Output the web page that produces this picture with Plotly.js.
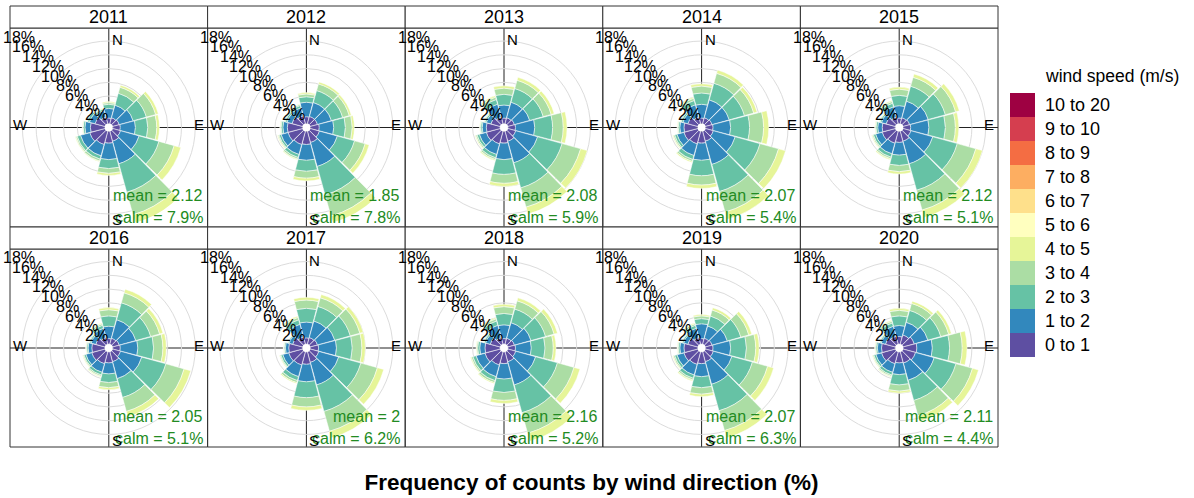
<!DOCTYPE html>
<html><head><meta charset="utf-8">
<script src="https://cdn.plot.ly/plotly-3.0.1.min.js"></script>
<style>html,body{margin:0;padding:0;background:#fff}#chart{width:1194px;height:498px}</style>
</head><body><div id="chart"></div>
<script>
const years = ['2011','2012','2013','2014','2015','2016','2017','2018','2019','2020'];
const directions = [0,30,60,90,120,150,180,210,240,270,300,330];
const speedBins = ['0 to 1','1 to 2','2 to 3','3 to 4','4 to 5','5 to 6','6 to 7','7 to 8','8 to 9','9 to 10','10 to 20'];
const binColors = ['#5E4FA2','#3288BD','#66C2A5','#ABDDA4','#E6F598','#FFFFBF','#FEE08B','#FDAE61','#F46D43','#D53E4F','#9E0142'];
const meanSpeed = ['2.12','1.85','2.08','2.07','2.12','2.05','2','2.16','2.07','2.11'];
const calmPct = ['7.9','7.8','5.9','5.4','5.1','5.1','6.2','5.2','6.3','4.4'];
const gridTicks = [2,4,6,8,10,12];
const labelTicks = [2,4,6,8,10,12,14,16,18];

// rows: direction (N, 30, ... 330); columns: % in speed bins 0-1, 1-2, 2-3, 3-4, 4-5
const ws2011 = [[0.8,1.4,0.6,0.25,0.15],[0.9,1.9,1.8,0.9,0.3],[1.0,2.1,2.0,1.4,0.4],[1.1,2.2,1.8,1.3,0.4],[1.2,2.8,3.0,2.3,1.0],[1.5,3.4,4.3,3.4,1.4],[1.7,2.4,1.3,0.7,0.3],[2.0,1.7,0.5,0.3,0.1],[2.3,1.4,0.5,0.2,0.1],[2.1,0.8,0.25,0.1,0.05],[1.5,0.85,0.3,0.1,0.05],[1.0,1.0,0.25,0.1,0.05]];
const ws2012 = [[1.0,2.1,0.8,0.4,0.2],[1.1,2.1,1.8,1.0,0.3],[1.1,2.1,1.7,1.0,0.3],[1.3,2.1,1.7,1.0,0.3],[1.4,2.7,2.6,1.6,0.6],[1.7,3.6,4.3,3.2,1.0],[1.9,2.3,1.6,1.0,0.4],[2.0,1.5,0.45,0.25,0.1],[2.2,1.05,0.3,0.15,0.1],[2.2,0.65,0.25,0.13,0.07],[1.6,0.75,0.25,0.13,0.07],[1.2,1.2,0.35,0.17,0.08]];
const ws2013 = [[0.8,1.9,1.55,0.9,0.35],[0.9,2.35,2.05,1.25,0.45],[1.0,2.3,2.05,1.2,0.45],[1.1,2.8,2.6,1.55,0.55],[1.2,3.3,3.7,2.8,1.0],[1.5,3.25,3.8,2.9,1.05],[1.7,2.4,2.15,1.3,0.45],[1.9,1.6,0.5,0.25,0.15],[2.1,1.05,0.35,0.2,0.1],[2.0,0.6,0.22,0.12,0.06],[1.4,0.7,0.22,0.12,0.06],[1.0,1.95,0.7,0.36,0.19]];
const ws2014 = [[0.8,2.0,1.65,1.0,0.35],[0.9,2.7,2.5,1.5,0.5],[1.0,2.6,2.3,1.4,0.5],[1.1,2.55,2.75,2.05,0.75],[1.2,3.3,3.75,2.8,1.05],[1.5,3.5,4.1,3.1,1.1],[1.7,2.5,2.25,1.35,0.5],[1.9,1.75,0.6,0.3,0.15],[2.1,1.05,0.35,0.2,0.1],[2.0,0.6,0.22,0.12,0.06],[1.5,0.75,0.25,0.13,0.07],[1.0,1.85,0.65,0.33,0.17]];
const ws2015 = [[0.8,1.8,1.5,0.9,0.3],[0.9,2.5,2.25,1.35,0.5],[1.0,2.8,2.6,1.55,0.55],[1.1,2.65,2.4,1.45,0.5],[1.2,3.3,3.7,2.8,1.0],[1.5,3.4,4.0,3.0,1.1],[1.6,1.85,1.5,0.9,0.35],[1.8,1.6,0.5,0.25,0.15],[2.0,1.0,0.33,0.17,0.1],[1.9,0.65,0.25,0.13,0.07],[1.4,0.7,0.22,0.12,0.06],[1.0,1.55,0.53,0.27,0.15]];
const ws2016 = [[0.8,1.8,1.5,0.9,0.3],[0.9,2.8,2.55,1.5,0.55],[1.0,2.5,2.25,1.35,0.5],[1.1,2.55,2.3,1.35,0.5],[1.2,3.2,3.65,2.75,1.0],[1.5,2.55,2.85,2.1,0.8],[1.6,1.6,1.25,0.75,0.3],[1.8,1.3,0.4,0.2,0.1],[2.0,0.9,0.28,0.14,0.08],[1.9,0.54,0.2,0.1,0.06],[1.4,0.7,0.22,0.12,0.06],[1.0,1.4,0.45,0.23,0.12]];
const ws2017 = [[0.9,2.3,2.0,1.2,0.4],[1.0,2.5,2.2,1.3,0.5],[1.1,2.6,2.35,1.45,0.5],[1.2,2.6,2.3,1.4,0.5],[1.3,3.0,3.35,2.5,0.95],[1.6,3.4,4.0,3.0,1.0],[1.8,2.55,2.3,1.35,0.5],[2.0,1.75,0.6,0.3,0.15],[2.1,0.9,0.28,0.14,0.08],[2.0,0.48,0.18,0.09,0.05],[1.5,0.53,0.15,0.08,0.04],[1.1,1.9,0.68,0.35,0.17]];
const ws2018 = [[0.8,2.0,1.65,1.0,0.35],[0.9,2.35,2.05,1.25,0.45],[1.0,2.5,2.2,1.3,0.5],[1.1,2.3,2.0,1.2,0.4],[1.2,3.0,3.3,2.5,0.9],[1.5,3.5,4.2,3.1,1.2],[1.7,2.25,1.95,1.15,0.45],[2.0,1.75,0.6,0.3,0.15],[2.3,1.35,0.48,0.25,0.12],[2.2,0.76,0.3,0.16,0.08],[1.5,0.7,0.22,0.12,0.06],[1.0,1.85,0.65,0.33,0.17]];
const ws2019 = [[0.8,2.15,0.75,0.4,0.2],[0.9,1.85,1.5,0.9,0.35],[1.0,2.3,2.05,1.2,0.45],[1.1,2.55,2.3,1.35,0.5],[1.2,2.8,3.1,2.3,0.9],[1.5,3.4,4.0,3.0,1.1],[1.7,1.9,1.6,0.95,0.35],[1.9,1.6,0.5,0.25,0.15],[2.1,1.05,0.35,0.2,0.1],[2.0,0.6,0.22,0.12,0.06],[1.5,0.64,0.2,0.1,0.06],[1.0,1.4,0.45,0.23,0.12]];
const ws2020 = [[1.1,1.6,1.4,0.8,0.3],[1.4,1.9,1.8,1.05,0.35],[1.7,2.05,1.95,1.2,0.4],[2.0,2.25,2.5,1.85,0.7],[1.9,2.8,3.3,2.5,0.9],[1.7,2.6,3.05,2.3,0.85],[1.6,1.7,1.5,0.9,0.3],[1.8,1.3,0.4,0.2,0.1],[2.1,0.86,0.3,0.16,0.08],[2.0,0.6,0.22,0.12,0.06],[1.5,0.64,0.2,0.1,0.06],[1.2,1.5,0.5,0.26,0.14]];
const yearData = [ws2011,ws2012,ws2013,ws2014,ws2015,ws2016,ws2017,ws2018,ws2019,ws2020];

const W = 1194, H = 498;
const FONT = 'Liberation Sans, Arial, sans-serif';
const colLeft = [10, 207.6, 405.2, 602.8, 800.4], panelW = 197.6;
const rowStrip = [6, 227], rowTop = [28, 249], rowBot = [227, 447];
const RMAX = 13.8, HOLE = 0.04;
const px = v => v / W, py = v => 1 - v / H;

const traces = [], layout = {
  width: W, height: H, autosize: false,
  margin: {l: 0, r: 0, t: 0, b: 0},
  paper_bgcolor: '#fff', showlegend: false,
  font: {family: FONT, color: '#000'},
  title: {text: '<b>Frequency of counts by wind direction (%)</b>', x: 591.5 / W, xanchor: 'center',
          y: py(482), yanchor: 'middle', yref: 'paper', font: {size: 22.5, family: FONT, color: '#000'}},
  shapes: [], annotations: []
};

years.forEach((yr, i) => {
  const row = Math.floor(i / 5), col = i % 5;
  const x0 = colLeft[col], x1 = x0 + panelW, y0 = rowTop[row], y1 = rowBot[row];
  const cx = (x0 + x1) / 2, cy = (y0 + y1) / 2;
  const pname = 'polar' + (i === 0 ? '' : i + 1);
  layout[pname] = {
    domain: {x: [px(x0), px(x1)], y: [py(y1), py(y0)]},
    bgcolor: '#fff', hole: HOLE, barmode: 'stack',
    radialaxis: {range: [0, RMAX], tickvals: gridTicks, showticklabels: false, angle: 135,
      showline: false, ticks: '', gridcolor: '#dcdcdc', gridwidth: 1},
    angularaxis: {rotation: 90, direction: 'clockwise', tickvals: [0, 90, 180, 270], showticklabels: false,
      ticks: '', showline: false, gridcolor: '#222', gridwidth: 1}
  };
  speedBins.forEach((bin, b) => {
    traces.push({
      type: 'barpolar', subplot: pname, name: bin,
      theta: directions, r: yearData[i].map(d => (b < d.length ? d[b] : 0)),
      width: 29, marker: {color: binColors[b], line: {color: '#fff', width: 0.5}},
      hoverinfo: 'skip'
    });
  });
  layout.shapes.push({type: 'rect', xref: 'paper', yref: 'paper', x0: px(x0), x1: px(x1), y0: py(y1), y1: py(y0),
    line: {color: '#333', width: 1}, fillcolor: 'rgba(0,0,0,0)', layer: 'above'});
  layout.shapes.push({type: 'rect', xref: 'paper', yref: 'paper', x0: px(x0), x1: px(x1), y0: py(y0), y1: py(rowStrip[row]),
    line: {color: '#333', width: 1}, fillcolor: '#fff', layer: 'above'});
  const ann = (text, x, y, xa, size, color) => layout.annotations.push({text, x: px(x), y: py(y), xref: 'paper', yref: 'paper',
    xanchor: xa, yanchor: 'middle', showarrow: false, font: {size, family: FONT, color}});
  // percentage labels along the NW diagonal, at the radial-axis scale positions
  const R = Math.min(x1 - x0, y1 - y0) / 2, hpx = HOLE * R, perPct = (R - hpx) / RMAX;
  labelTicks.forEach(t => {
    const d = (hpx + t * perPct) / Math.SQRT2;
    ann(t + '%', cx - d, cy - d, 'center', 16, '#000');
  });
  ann(yr, cx, (y0 + rowStrip[row]) / 2, 'center', 18, '#000');
  ann('N', cx + 1, cy - 88, 'left', 15, '#000');
  ann('E', cx + 97, cy - 3, 'right', 15, '#000');
  ann('W', cx - 98, cy - 3, 'left', 15, '#000');
  ann('mean = ' + meanSpeed[i], cx + 96, cy + 68, 'right', 16, '#228B22');
  ann('calm = ' + calmPct[i] + '%', cx + 96, cy + 90, 'right', 16, '#228B22');
  ann('S', cx + 1, cy + 92, 'left', 15, '#000');
});

layout.annotations.push({text: 'wind speed (m/s)', x: px(1043), y: py(76), xref: 'paper', yref: 'paper', xanchor: 'left',
  yanchor: 'middle', showarrow: false, font: {size: 17.5, family: FONT, color: '#000'}});
const legTop = 93, legH = 24;
for (let k = 0; k < speedBins.length; k++) {
  const b = speedBins.length - 1 - k;
  const t = legTop + k * legH;
  layout.shapes.push({type: 'rect', xref: 'paper', yref: 'paper', x0: px(1010), x1: px(1035), y0: py(t + legH), y1: py(t),
    line: {width: 0}, fillcolor: binColors[b]});
  layout.annotations.push({text: speedBins[b], x: px(1043), y: py(t + legH / 2), xref: 'paper', yref: 'paper', xanchor: 'left',
    yanchor: 'middle', showarrow: false, font: {size: 18, family: FONT, color: '#000'}});
}

Plotly.newPlot('chart', traces, layout, {staticPlot: true, displayModeBar: false});
</script></body></html>
